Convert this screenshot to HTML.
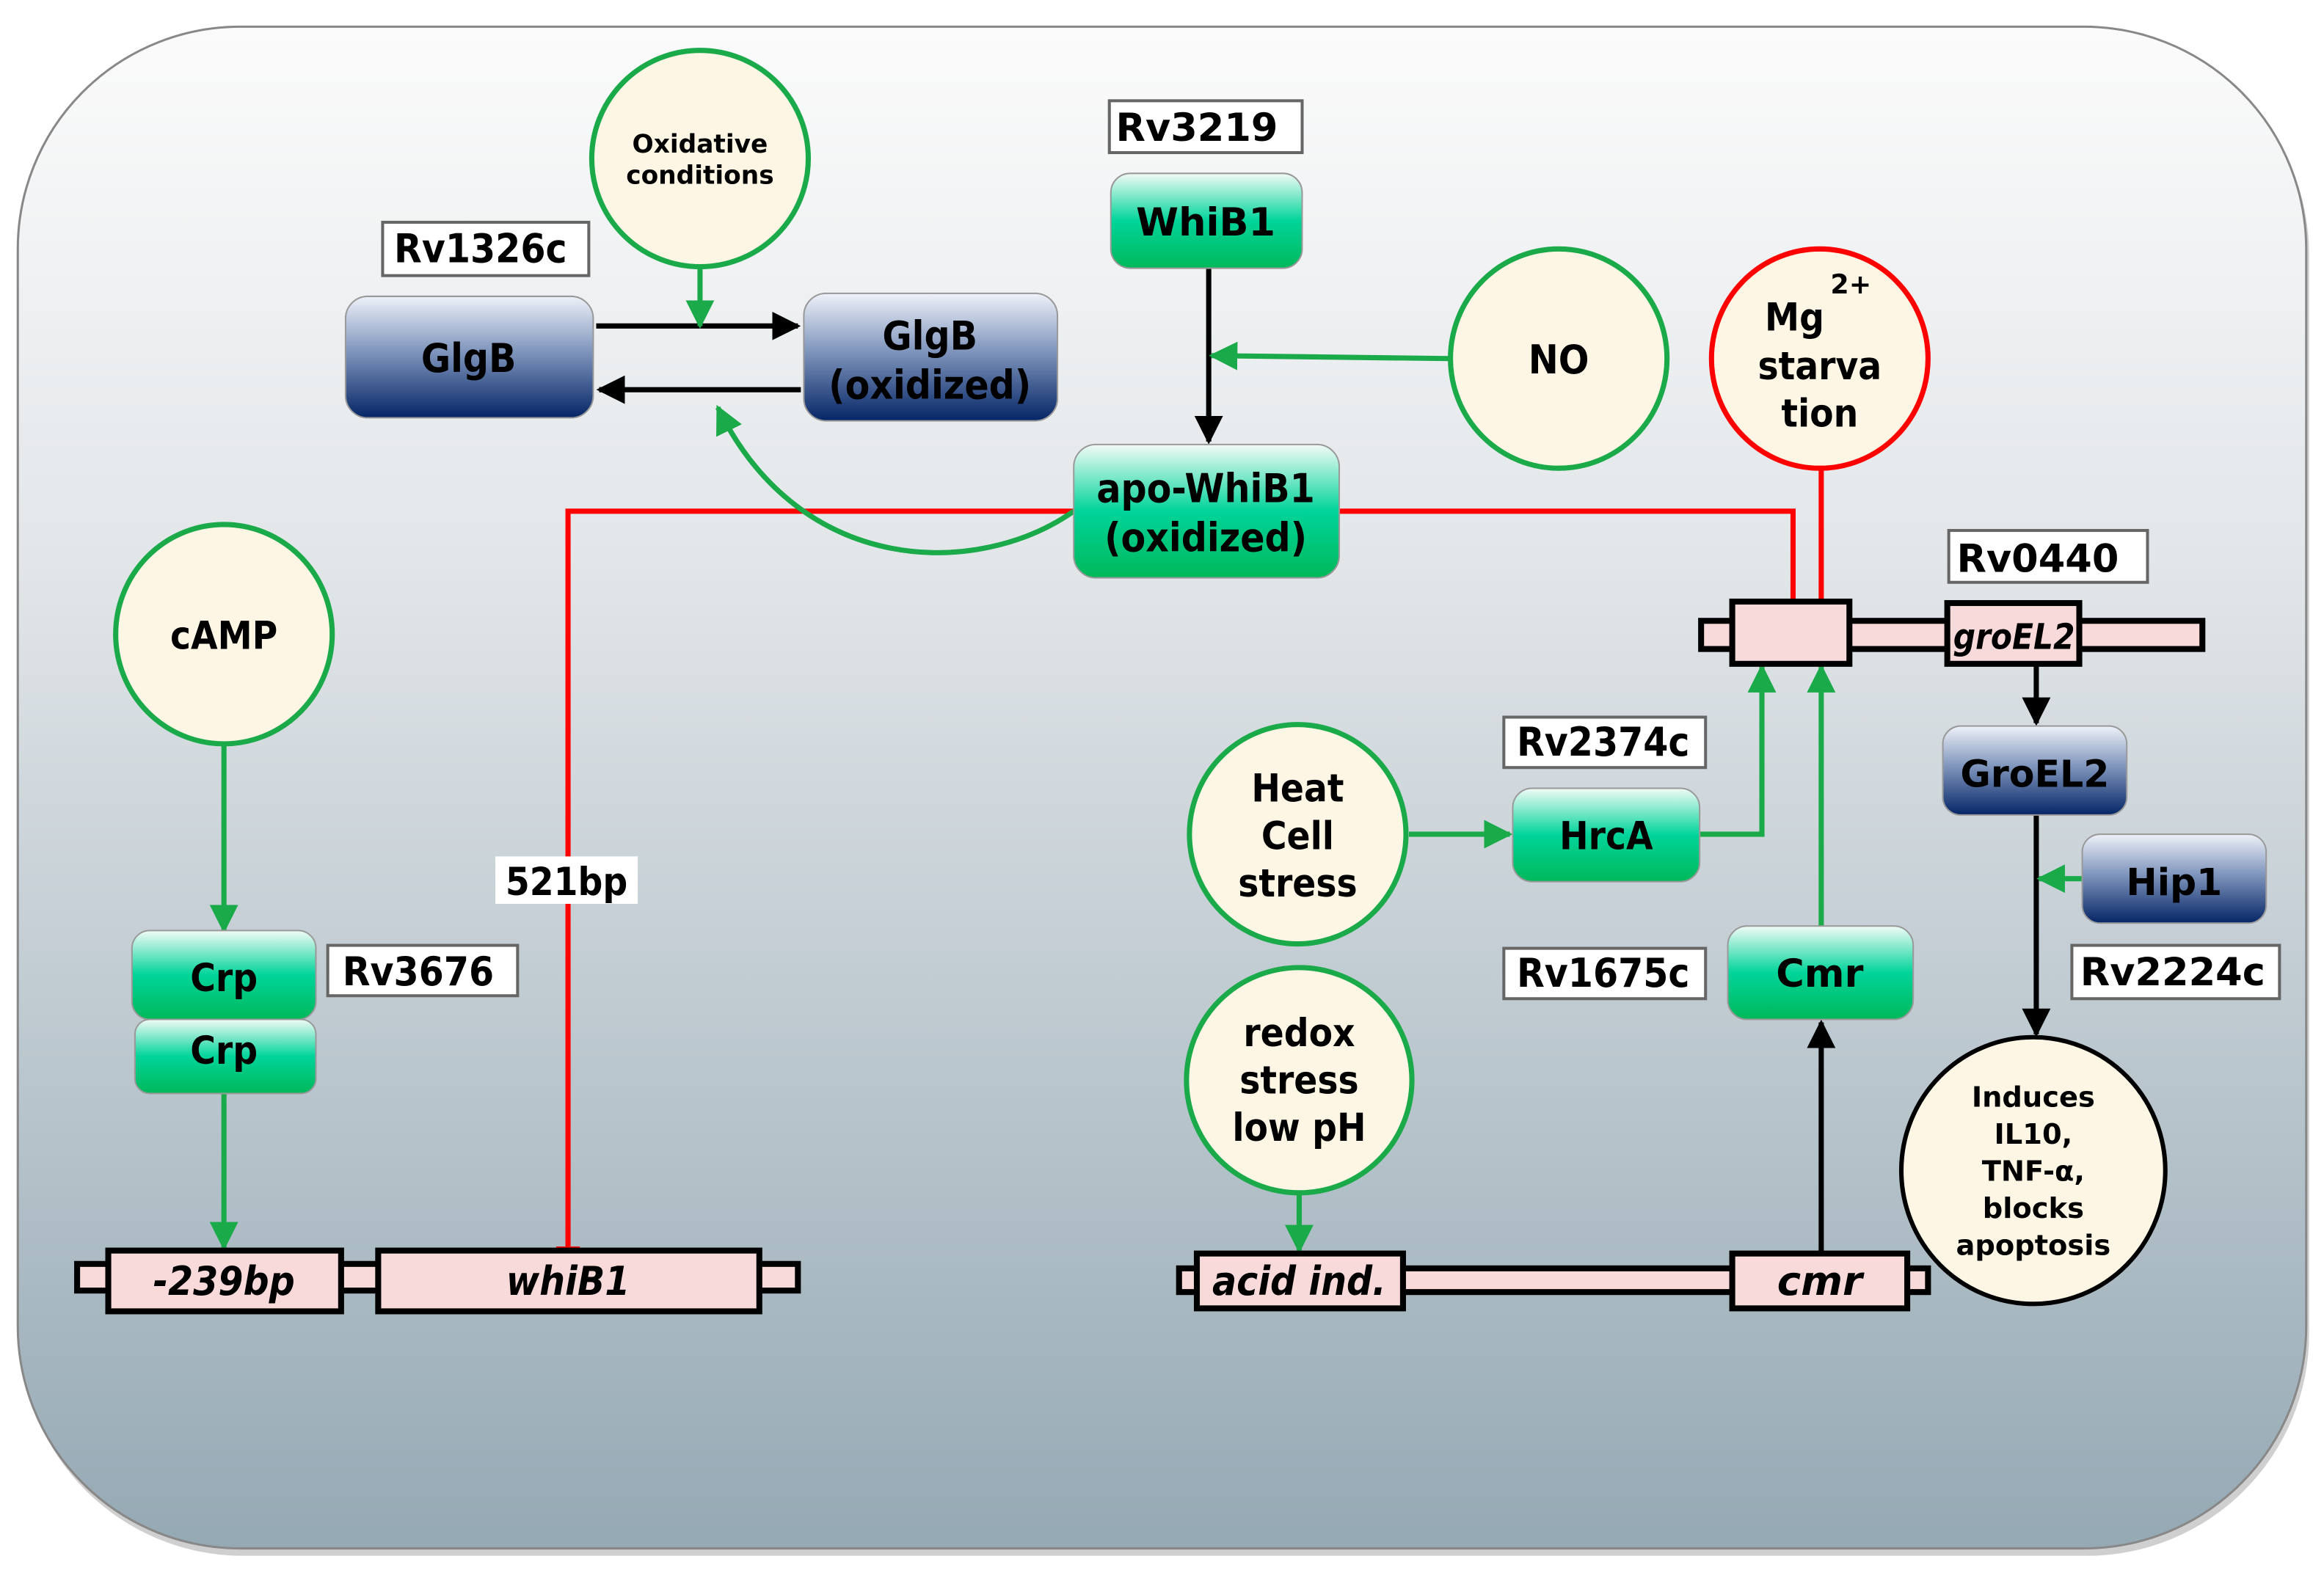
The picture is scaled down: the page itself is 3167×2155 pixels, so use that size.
<!DOCTYPE html>
<html><head><meta charset="utf-8"><style>
html,body{margin:0;padding:0;background:#fff;}
svg{display:block;}
text{font-family:"DejaVu Sans Condensed","DejaVu Sans",sans-serif;font-weight:bold;fill:#000;text-anchor:middle;}
.w{font-family:"DejaVu Sans",sans-serif;}
</style></head><body>
<svg width="3167" height="2155" viewBox="0 0 1567 1067" preserveAspectRatio="none" xmlns="http://www.w3.org/2000/svg">
<defs>
<linearGradient id="bg" x1="0" y1="0" x2="0" y2="1">
<stop offset="0" stop-color="#fbfbfb"/><stop offset="0.35" stop-color="#e2e6e9"/><stop offset="1" stop-color="#95a9b4"/></linearGradient>
<linearGradient id="gr" x1="0" y1="0" x2="0" y2="1">
<stop offset="0" stop-color="#f2fbf6"/><stop offset="0.5" stop-color="#00d49a"/><stop offset="1" stop-color="#00b85a"/></linearGradient>
<linearGradient id="bl" x1="0" y1="0" x2="0" y2="1">
<stop offset="0" stop-color="#eef1f8"/><stop offset="0.45" stop-color="#8096bd"/><stop offset="1" stop-color="#052566"/></linearGradient>
<marker id="ab" viewBox="0 0 10 10" refX="9" refY="5" markerWidth="5.5" markerHeight="5.5" orient="auto"><path d="M0,0L10,5L0,10z" fill="#000"/></marker>
<marker id="ag" viewBox="0 0 10 10" refX="9" refY="5" markerWidth="5.5" markerHeight="5.5" orient="auto"><path d="M0,0L10,5L0,10z" fill="#1aaa4a"/></marker>
</defs>
<rect x="14" y="22" width="1543" height="1028" rx="150" fill="#888" opacity="0.4"/>
<rect x="12" y="18" width="1543" height="1027" rx="150" fill="url(#bg)" stroke="#888" stroke-width="1.5"/>

<g stroke="#f00" stroke-width="3.5" fill="none">
<path d="M726,345H383V843"/><path d="M375,843H391"/>
<path d="M903,345H1209V407"/>
<path d="M1228,317V407"/><path d="M1219,407H1237"/>
</g>

<g stroke="#000" stroke-width="3.5" fill="none">
<path d="M402,220H538" marker-end="url(#ab)"/>
<path d="M540,263H404" marker-end="url(#ab)"/>
<path d="M815,181V298" marker-end="url(#ab)"/>
<path d="M1373,448V488" marker-end="url(#ab)"/>
<path d="M1373,550V698" marker-end="url(#ab)"/>
<path d="M1228,845V690" marker-end="url(#ab)"/>
</g>
<g stroke="#1aaa4a" stroke-width="3.5" fill="none">
<path d="M472,180V220" marker-end="url(#ag)"/>
<path d="M977,242L817,240" marker-end="url(#ag)"/>
<path d="M724,345C660,390 540,390 484,275" marker-end="url(#ag)"/>
<path d="M151,502V628" marker-end="url(#ag)"/>
<path d="M151,738V842" marker-end="url(#ag)"/>
<path d="M950,563H1018" marker-end="url(#ag)"/>
<path d="M1146,563H1188V450" marker-end="url(#ag)"/>
<path d="M1228,625V450" marker-end="url(#ag)"/>
<path d="M876,805V844" marker-end="url(#ag)"/>
<path d="M1404,593H1375" marker-end="url(#ag)"/>
</g>

<g fill="#fdf6e4" stroke-width="3.5">
<ellipse cx="472" cy="107" rx="73" ry="73" stroke="#1aaa4a"/>
<ellipse cx="1051" cy="242" rx="73" ry="74" stroke="#1aaa4a"/>
<ellipse cx="1227" cy="242" rx="73" ry="74" stroke="#f00"/>
<ellipse cx="151" cy="428" rx="73" ry="74" stroke="#1aaa4a"/>
<ellipse cx="875" cy="563" rx="73" ry="74" stroke="#1aaa4a"/>
<ellipse cx="876" cy="729" rx="76" ry="76" stroke="#1aaa4a"/>
<ellipse cx="1371" cy="790" rx="89" ry="90" stroke="#000" stroke-width="3"/>
</g>
<text x="472" y="103" font-size="17" class="w">Oxidative</text>
<text x="472" y="124" font-size="17" class="w">conditions</text>
<text x="1051" y="252" font-size="27">NO</text>
<text x="1210" y="223" font-size="26">Mg</text><text x="1248" y="198" font-size="18" class="w">2+</text>
<text x="1227" y="256" font-size="26">starva</text><text x="1227" y="288" font-size="26">tion</text>
<text x="151" y="438" font-size="26">cAMP</text>
<text x="875" y="541" font-size="26">Heat</text><text x="875" y="573" font-size="26">Cell</text><text x="875" y="605" font-size="26">stress</text>
<text x="876" y="706" font-size="26">redox</text><text x="876" y="738" font-size="26">stress</text><text x="876" y="770" font-size="26">low pH</text>
<g font-size="19">
<text x="1371" y="747" class="w">Induces</text><text x="1371" y="772" class="w">IL10,</text><text x="1371" y="797" class="w">TNF-α,</text><text x="1371" y="822" class="w">blocks</text><text x="1371" y="847" class="w">apoptosis</text>
</g>

<g fill="#fff" stroke="#666" stroke-width="2">
<rect x="258" y="150" width="139" height="36"/>
<rect x="748" y="68" width="130" height="35"/>
<rect x="334" y="578" width="96" height="32" stroke="none"/>
<rect x="221" y="638" width="128" height="34"/>
<rect x="1314" y="358" width="134" height="35"/>
<rect x="1014" y="484" width="136" height="34"/>
<rect x="1014" y="640" width="136" height="34"/>
<rect x="1397" y="638" width="140" height="36"/>
</g>
<text x="324" y="177" font-size="27">Rv1326c</text>
<text x="807" y="95" font-size="26" class="w">Rv3219</text>
<text x="382" y="604" font-size="26">521bp</text>
<text x="282" y="665" font-size="27">Rv3676</text>
<text x="1374" y="386" font-size="26" class="w">Rv0440</text>
<text x="1081" y="510" font-size="27">Rv2374c</text>
<text x="1081" y="666" font-size="27">Rv1675c</text>
<text x="1465" y="665" font-size="26" class="w">Rv2224c</text>

<g stroke="#999" stroke-width="1">
<rect x="233" y="200" width="167" height="82" rx="15" fill="url(#bl)"/>
<rect x="542" y="198" width="171" height="86" rx="15" fill="url(#bl)"/>
<rect x="749" y="117" width="129" height="64" rx="13" fill="url(#gr)"/>
<rect x="724" y="300" width="179" height="90" rx="15" fill="url(#gr)"/>
<rect x="91" y="688" width="122" height="50" rx="10" fill="url(#gr)"/>
<rect x="89" y="628" width="124" height="60" rx="12" fill="url(#gr)"/>
<rect x="1020" y="532" width="126" height="63" rx="13" fill="url(#gr)"/>
<rect x="1165" y="625" width="125" height="63" rx="13" fill="url(#gr)"/>
<rect x="1310" y="490" width="124" height="60" rx="12" fill="url(#bl)"/>
<rect x="1404" y="563" width="124" height="60" rx="12" fill="url(#bl)"/>
</g>
<text x="316" y="251" font-size="27">GlgB</text>
<text x="627" y="236" font-size="27">GlgB</text><text x="627" y="269" font-size="27">(oxidized)</text>
<text x="813" y="159" font-size="26" class="w">WhiB1</text>
<text x="813" y="339" font-size="27">apo-WhiB1</text><text x="813" y="372" font-size="27">(oxidized)</text>
<text x="151" y="669" font-size="26">Crp</text><text x="151" y="718" font-size="26">Crp</text>
<text x="1083" y="573" font-size="26">HrcA</text>
<text x="1227" y="666" font-size="26" class="w">Cmr</text>
<text x="1372" y="531" font-size="25" class="w">GroEL2</text>
<text x="1466" y="604" font-size="25" class="w">Hip1</text>

<g fill="#f8dada" stroke="#000" stroke-width="4">
<rect x="52" y="853" width="486" height="18"/>
<rect x="73" y="844" width="157" height="41"/>
<rect x="255" y="844" width="257" height="41"/>
<rect x="795" y="856" width="505" height="16"/>
<rect x="807" y="846" width="139" height="37"/>
<rect x="1168" y="846" width="118" height="37"/>
<rect x="1147" y="419" width="338" height="19"/>
<rect x="1168" y="406" width="79" height="42"/>
<rect x="1313" y="407" width="89" height="41"/>
</g>
<g font-style="italic">
<text x="151" y="874" font-size="27">-239bp</text>
<text x="383" y="874" font-size="27">whiB1</text>
<text x="876" y="874" font-size="27">acid ind.</text>
<text x="1227" y="874" font-size="27" class="w">cmr</text>
<text x="1358" y="438" font-size="24" class="w" textLength="82" lengthAdjust="spacingAndGlyphs">groEL2</text>
</g>
</svg>
</body></html>
